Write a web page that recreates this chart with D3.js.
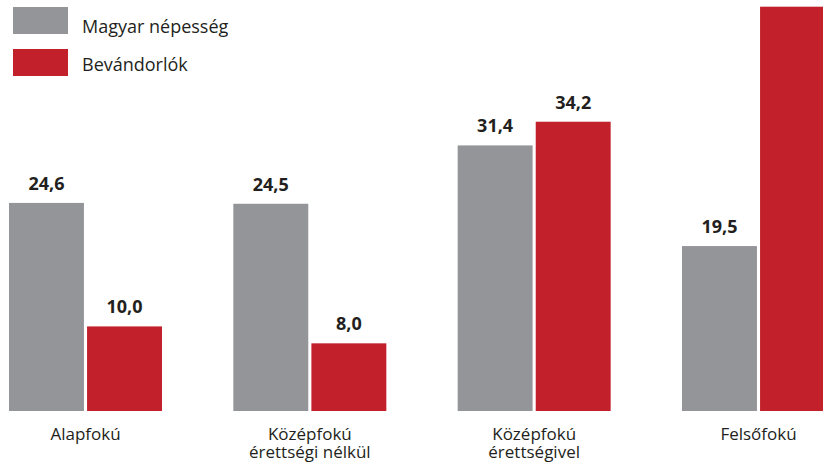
<!DOCTYPE html>
<html>
<head>
<meta charset="utf-8">
<script src="https://cdn.jsdelivr.net/npm/d3@7/dist/d3.min.js"></script>
<style>
  html,body{margin:0;padding:0;background:#fff;}
  svg{display:block;font-family:"Open Sans",sans-serif;}
</style>
</head>
<body>
<svg id="chart" width="823" height="463"></svg>
<script>
"use strict";
// iskolai végzettség megoszlása (%), két sorozat
const categories = [["Alapfokú"], ["Középfokú", "érettségi nélkül"], ["Középfokú", "érettségivel"], ["Felsőfokú"]];
const seriesNames = ["Magyar népesség", "Bevándorlók"];
const magyar = [24.6, 24.5, 31.4, 19.5];
const bevandorlok = [10.0, 8.0, 34.2, 47.8];
const COLORS = ["#939598", "#c2202a"];

const W = 823, H = 463;
const svg = d3.select("#chart");
const fmt = (v)=> d3.format(".1f")(v).replace(".", ",");

const x0 = d3.scaleBand().domain(d3.range(categories.length)).range([9, 835]).paddingInner(0.318).paddingOuter(0);
const x1 = d3.scaleBand().domain(d3.range(seriesNames.length)).range([0, x0.bandwidth()]).paddingInner(0.04);
const y = d3.scaleLinear().domain([0, 48]).range([411, 5]);
const color = d3.scaleOrdinal().domain(d3.range(seriesNames.length)).range(COLORS);

const rows = categories.map((c, i)=> ({ i, vals: [magyar[i], bevandorlok[i]] }));

const groups = svg.append("g").selectAll("g").data(rows).join("g")
  .attr("transform", (d)=> `translate(${x0(d.i)},0)`);

groups.selectAll("rect").data((d)=> d.vals.map((v, s)=> ({ s, v }))).join("rect")
  .attr("x", (d)=> x1(d.s)).attr("width", x1.bandwidth())
  .attr("y", (d)=> y(d.v)).attr("height", (d)=> y(0) - y(d.v))
  .attr("fill", (d)=> color(d.s));

// értékfeliratok — a kép tetején kilógó oszlopé nem látszik (mint az eredetin)
groups.selectAll("text.val").data((d)=> d.vals.map((v, s)=> ({ s, v })).filter((e)=> y(e.v) - 13 > 20)).join("text").attr("class", "val")
  .attr("x", (d)=> x1(d.s) + x1.bandwidth()/2).attr("y", (d)=> y(d.v) - 13)
  .attr("text-anchor", "middle").attr("font-size", 18).attr("font-weight", 700).attr("fill", "#231f20")
  .text((d)=> fmt(d.v));

// kategória feliratok: soronként külön text
const lines = categories.flatMap((c, i)=> c.map((t, j)=> ({ i, j, t })));
svg.append("g").selectAll("text").data(lines).join("text")
  .attr("x", (d)=> x0(d.i) + x0.bandwidth()/2).attr("y", (d)=> 440 + d.j*18)
  .attr("text-anchor", "middle").attr("font-size", 17).attr("fill", "#231f20")
  .text((d)=> d.t);

// jelmagyarázat
const leg = svg.append("g").selectAll("g").data(seriesNames).join("g");
leg.append("rect").attr("x", 13).attr("y", (d, i)=> 7 + i*42).attr("width", 55).attr("height", 27).attr("fill", (d, i)=> color(i));
leg.append("text").attr("x", 82).attr("y", (d, i)=> 33 + i*38).attr("font-size", 18).attr("fill", "#231f20").text((d)=> d);
</script>
</body>
</html>
